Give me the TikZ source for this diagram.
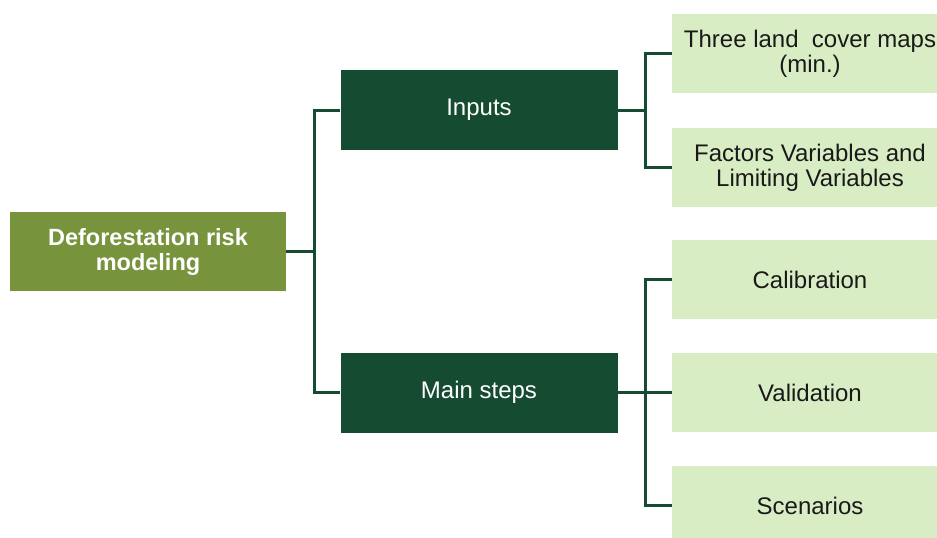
\documentclass[tikz,border=0pt]{standalone}
\usepackage{fontspec}
\setmainfont{Liberation Sans}
\usepackage{tikz}
\usetikzlibrary{positioning}
\definecolor{rootgreen}{HTML}{77933C}
\definecolor{darkgreen}{HTML}{154B30}
\definecolor{palegreen}{HTML}{D9EDC4}

\begin{document}
\begin{tikzpicture}[
		x=1pt, y=-1pt,
		rootbox/.style={fill=rootgreen, text=white, font=\fontsize{23.5}{25}\selectfont\bfseries, minimum width=276pt, minimum height=79pt, align=center, inner sep=0pt},
		groupbox/.style={fill=darkgreen, text=white, font=\fontsize{24}{25}\selectfont, minimum width=277pt, minimum height=80pt, align=center, inner sep=0pt},
		leafbox/.style={fill=palegreen, text=black!90, font=\fontsize{24}{25}\selectfont, minimum width=276pt, minimum height=79pt, align=center, inner sep=0pt},
		link/.style={draw=darkgreen, line width=3pt}
		]
		\useasboundingbox (0,0) rectangle (937,538);
		
		% Root
		\node[rootbox] (root) at (148,251.5) {Deforestation risk\\modeling};
		
		% Groups
		\node[groupbox] (inputs) at (479,110) {Inputs};
		\node[groupbox] (steps)  at (479,392.5) {Main steps};
		
		% Leaves
		\node[leafbox] (maps)    at (810,53.5)  {Three land\ \ cover maps\\(min.)};
		\node[leafbox] (factors) at (810,167.5) {Factors Variables and\\Limiting Variables};
		\node[leafbox] (calib)   at (810,279.5) {Calibration};
		\node[leafbox] (valid)   at (810,392.5) {Validation};
		\node[leafbox] (scen)    at (810,505.5) {Scenarios};
		
		% Root to groups
		\draw[link] (root.east) -- ++(28,0) |- (inputs.west);
		\draw[link] (root.east) -- ++(28,0) |- (steps.west);
		
		% Inputs to leaves
		\draw[link] (inputs.east) -- ++(28,0) |- (maps.west);
		\draw[link] (inputs.east) -- ++(28,0) |- (factors.west);
		
		% Main steps to leaves
		\draw[link] (steps.east) -- ++(28,0) |- (calib.west);
		\draw[link] (steps.east) -- (valid.west);
		\draw[link] (steps.east) -- ++(28,0) |- (scen.west);
		
	\end{tikzpicture}
\end{document}
